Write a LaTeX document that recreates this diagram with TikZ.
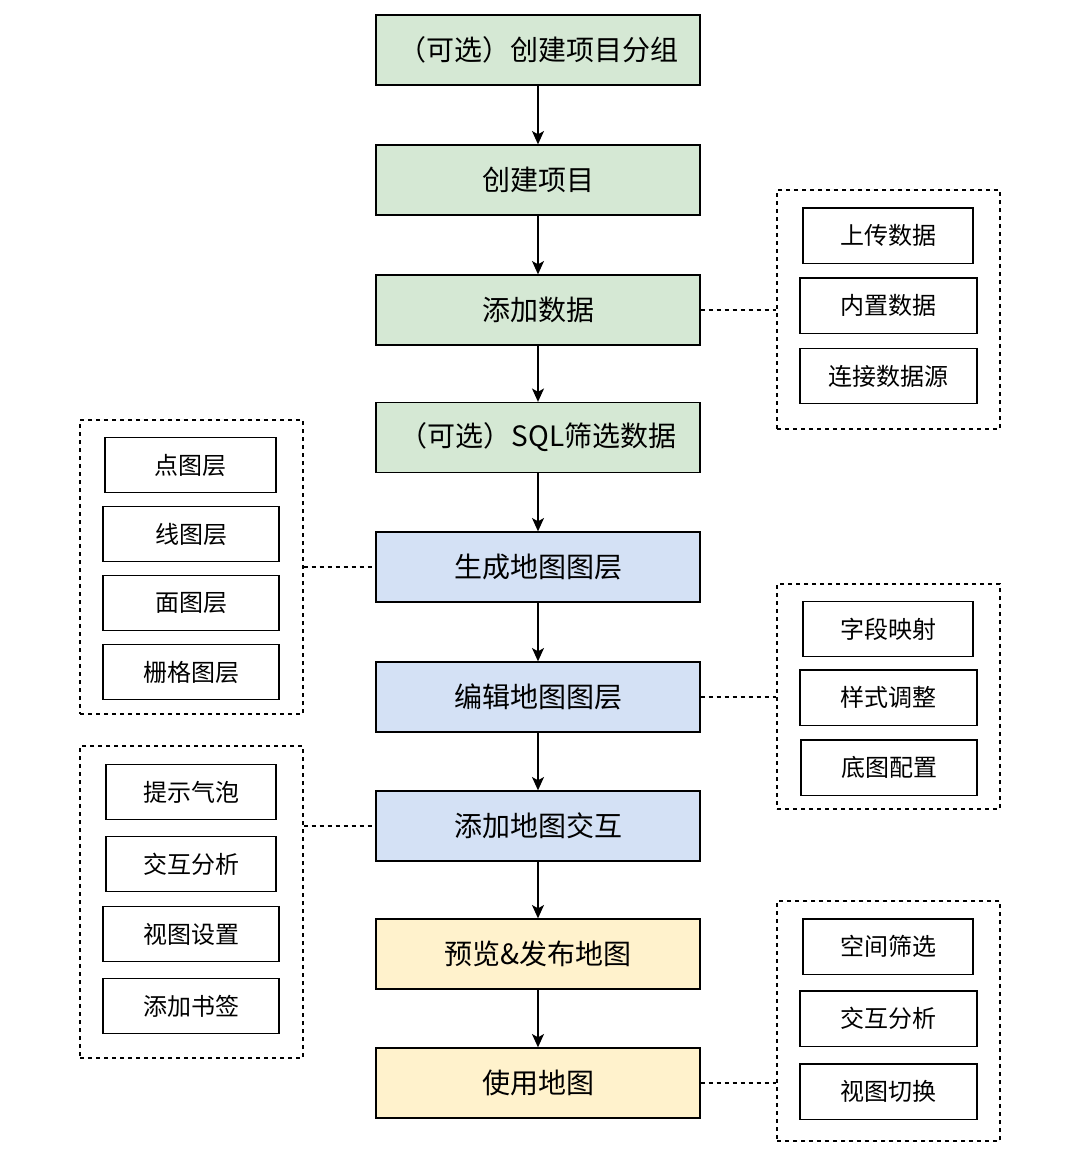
\documentclass[tikz,border=0pt]{standalone}
\usepackage{fontspec}
\setmainfont{Noto Sans CJK SC}
\usetikzlibrary{positioning,arrows.meta}
\definecolor{stepGreen}{HTML}{D5E8D4}
\definecolor{stepBlue}{HTML}{D4E1F5}
\definecolor{stepYellow}{HTML}{FFF2CC}

\tikzset{
  mainbox/.style={draw, line width=1pt, minimum width=243pt, minimum height=52.5pt,
    inner sep=0pt, font=\fontsize{21}{25}\selectfont},
  subbox/.style={draw, line width=1pt, minimum height=41.5pt, inner sep=0pt,
    font=\fontsize{18}{21}\selectfont},
  groupbox/.style={draw, line width=0.9pt, dash pattern=on 3pt off 3pt, inner sep=0pt,
    minimum width=167.25pt},
  flow/.style={-{Stealth[length=10pt,width=9pt,inset=2.5pt]}, line width=1pt},
  link/.style={line width=0.9pt, dash pattern=on 3pt off 3pt},
}

\begin{document}
\begin{tikzpicture}[x=0.75pt, y=-0.75pt]

\useasboundingbox (0,0) rectangle (1076,1172);

% --- MAIN FLOW ---
\node[mainbox, fill=stepGreen]  (group)   at (538,50)    {（可选）创建项目分组};
\node[mainbox, fill=stepGreen]  (project) at (538,180)   {创建项目};
\node[mainbox, fill=stepGreen]  (data)    at (538,310)   {添加数据};
\node[mainbox, fill=stepGreen]  (sql)     at (538,437.5) {（可选）SQL筛选数据};
\node[mainbox, fill=stepBlue]   (layer)   at (538,567)   {生成地图图层};
\node[mainbox, fill=stepBlue]   (edit)    at (538,697)   {编辑地图图层};
\node[mainbox, fill=stepBlue]   (inter)   at (538,826)   {添加地图交互};
\node[mainbox, fill=stepYellow] (publish) at (538,954)   {预览\&发布地图};
\node[mainbox, fill=stepYellow] (use)     at (538,1083)  {使用地图};

\foreach \a/\b in {group/project, project/data, data/sql, sql/layer,
                   layer/edit, edit/inter, inter/publish, publish/use} {
  \draw[flow] (\a) -- (\b);
}

% --- OPTION GROUPS (dashed frames) ---
\node[groupbox, minimum height=179.25pt] (grpData)  at (888.5,309.5) {};
\node[groupbox, minimum height=220.5pt]  (grpLayer) at (191.5,567)   {};
\node[groupbox, minimum height=168.75pt] (grpEdit)  at (888.5,696.5) {};
\node[groupbox, minimum height=234pt]    (grpInter) at (191.5,902)   {};
\node[groupbox, minimum height=180pt]    (grpUse)   at (888.5,1021)  {};

% --- OPTION ITEMS ---
\foreach \n/\x/\y/\w/\t in {
    upload/888/235.5/170/上传数据, builtin/888.5/305.5/177/内置数据,
    source/888.5/376/177/连接数据源,
    point/190.5/465/171/点图层, line/191/534/176/线图层,
    polygon/191/603/176/面图层, raster/191/672/176/栅格图层,
    field/888/629/170/字段映射, style/888.5/697.5/177/样式调整,
    basemap/889/767.5/176/底图配置,
    tooltip/191/792/170/提示气泡, analysisL/191/864/170/交互分析,
    viewset/191/934/176/视图设置, bookmark/191/1006/176/添加书签,
    filter/888/946.5/170/空间筛选, analysisR/888.5/1018.5/177/交互分析,
    viewswitch/888.5/1091.5/177/视图切换} {
  \node[subbox, minimum width=\w*0.75pt] (\n) at (\x,\y) {\t};
}

% --- LINKS TO GROUPS ---
\draw[link] (data.east) -- (data.east -| grpData.west);
\draw[link] (grpLayer.east |- layer.west) -- (layer.west);
\draw[link] (edit.east) -- (edit.east -| grpEdit.west);
\draw[link] (grpInter.east |- inter.west) -- (inter.west);
\draw[link] (use.east) -- (use.east -| grpUse.west);

\end{tikzpicture}
\end{document}
